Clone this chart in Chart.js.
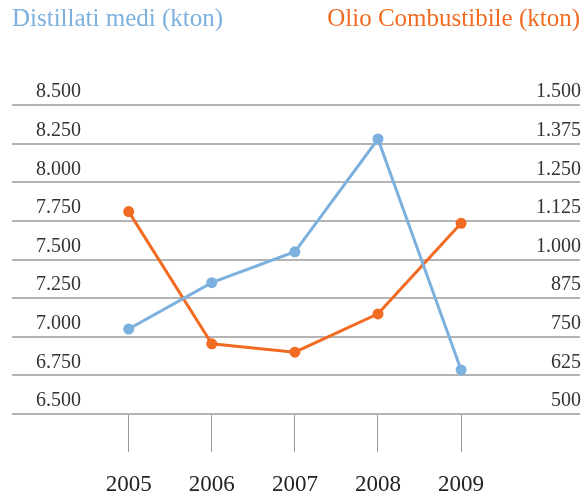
<!DOCTYPE html>
<html lang="it">
<head>
<meta charset="utf-8">
<title>Distillati medi e Olio Combustibile</title>
<script src="https://cdn.jsdelivr.net/npm/chart.js@4/dist/chart.umd.min.js"></script>
<style>
  html, body { margin: 0; padding: 0; background: #fff; }
  #wrap { position: relative; width: 587px; height: 497px; }
</style>
</head>
<body>
<div id="wrap"><canvas id="chart"></canvas></div>
<script>
// dati (kton)
const years = [2005, 2006, 2007, 2008, 2009];
const distillati = [7050, 7350, 7550, 8280, 6785];
const olio = [1155, 727, 700, 824, 1117];

const leftTicks = [6500, 6750, 7000, 7250, 7500, 7750, 8000, 8250, 8500];
const rightTicks = [500, 625, 750, 875, 1000, 1125, 1250, 1375, 1500];

const titleLeft = 'Distillati medi (kton)';
const titleRight = 'Olio Combustibile (kton)';

const BLUE = '#7cb0de';
const ORANGE = '#f26b22';
const GRID = '#b4b4b4';
const SERIF = '"Liberation Serif", "DejaVu Serif", serif';

// separatore delle migliaia all'italiana: 8500 -> 8.500
function fmt(v) {
  return String(v).replace(/\B(?=(\d{3})+(?!\d))/g, '.');
}

// i due titoli colorati in alto, uno a sinistra e uno a destra
const headerTitles = {
  id: 'headerTitles',
  afterDraw(chart) {
    const ctx = chart.ctx;
    const area = chart.chartArea;
    ctx.save();
    ctx.font = '25px ' + SERIF;
    ctx.textBaseline = 'middle';
    ctx.textAlign = 'left';
    ctx.fillStyle = BLUE;
    ctx.fillText(titleLeft, area.left, 19);
    ctx.textAlign = 'right';
    ctx.fillStyle = ORANGE;
    ctx.fillText(titleRight, area.right, 19);
    ctx.restore();
  }
};

new Chart(document.getElementById('chart'), {
  type: 'line',
  data: {
    datasets: [
      {
        label: titleLeft,
        data: years.map((y, i) => ({ x: y, y: distillati[i] })),
        borderColor: BLUE,
        backgroundColor: BLUE,
        borderWidth: 3,
        pointRadius: 5.5,
        pointBorderWidth: 0,
        yAxisID: 'y'
      },
      {
        label: titleRight,
        data: years.map((y, i) => ({ x: y, y: olio[i] })),
        borderColor: ORANGE,
        backgroundColor: ORANGE,
        borderWidth: 3,
        pointRadius: 5.5,
        pointBorderWidth: 0,
        yAxisID: 'y1'
      }
    ]
  },
  options: {
    responsive: true,
    maintainAspectRatio: false,
    animation: false,
    layout: { padding: { top: 105, left: 12, right: 7, bottom: 0 } },
    plugins: {
      legend: { display: false },
      tooltip: { enabled: false }
    },
    scales: {
      x: {
        type: 'linear',
        min: 2003.596,
        max: 2010.431,
        afterBuildTicks: (s) => { s.ticks = years.map((v) => ({ value: v })); },
        afterFit: (s) => { s.height = 83; },
        border: { display: false },
        grid: { drawOnChartArea: false, drawTicks: true, tickLength: 38, color: '#9a9a9a', lineWidth: 1 },
        ticks: { color: '#222', padding: 19, font: { family: SERIF, size: 23 }, callback: (v) => String(v) }
      },
      y: {
        position: 'left',
        min: 6500,
        max: 8500,
        afterBuildTicks: (s) => { s.ticks = leftTicks.map((v) => ({ value: v })); },
        afterFit: (s) => { s.width = 0; },
        border: { display: false },
        grid: { color: GRID, lineWidth: 2, drawTicks: false },
        ticks: { mirror: true, padding: 24, labelOffset: -13, color: '#333', font: { family: SERIF, size: 20 }, callback: (v) => fmt(v) }
      },
      y1: {
        position: 'right',
        min: 500,
        max: 1500,
        afterBuildTicks: (s) => { s.ticks = rightTicks.map((v) => ({ value: v })); },
        afterFit: (s) => { s.width = 0; },
        border: { display: false },
        grid: { drawOnChartArea: false, drawTicks: false },
        ticks: { mirror: true, padding: 1, labelOffset: -13, color: '#333', font: { family: SERIF, size: 20 }, callback: (v) => fmt(v) }
      }
    }
  },
  plugins: [headerTitles]
});
</script>
</body>
</html>
